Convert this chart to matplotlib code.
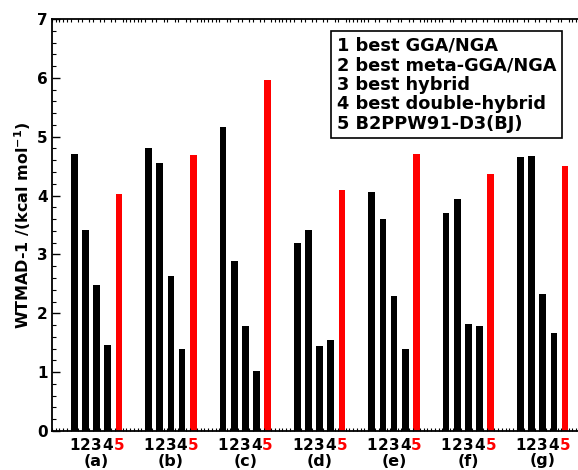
import matplotlib
matplotlib.use("Agg")
import matplotlib.pyplot as plt
from matplotlib.ticker import MultipleLocator
import matplotlib.transforms as mtransforms

groups = ["(a)", "(b)", "(c)", "(d)", "(e)", "(f)", "(g)"]
methods = ["1", "2", "3", "4", "5"]
legend_lines = ["1 best GGA/NGA", "2 best meta-GGA/NGA", "3 best hybrid",
                "4 best double-hybrid", "5 B2PPW91-D3(BJ)"]
best_gga = [4.70, 4.81, 5.16, 3.20, 4.06, 3.70, 4.66]
best_mgga = [3.42, 4.56, 2.88, 3.41, 3.61, 3.94, 4.67]
best_hybrid = [2.48, 2.63, 1.78, 1.45, 2.29, 1.81, 2.32]
best_dh = [1.46, 1.40, 1.02, 1.55, 1.39, 1.79, 1.66]
b2ppw91 = [4.02, 4.69, 5.96, 4.09, 4.71, 4.37, 4.50]
series = [best_gga, best_mgga, best_hybrid, best_dh, b2ppw91]
colors = ["black", "black", "black", "black", "red"]

plt.rcParams["font.family"] = "DejaVu Sans"
plt.rcParams["font.weight"] = "bold"

fig = plt.figure(figsize=(5.78, 4.70), dpi=100)
ax = fig.add_axes([52 / 578, 1 - 431 / 470, 7.2 * 74.35 / 578, 412 / 470])

offsets = [-0.3, -0.15, 0.0, 0.15, 0.3]
width = 0.09
ticks = []
ticklabels = []
for s, (vals, col, off, m) in enumerate(zip(series, colors, offsets, methods)):
    xs = [i + 1 + off for i in range(len(groups))]
    ax.bar(xs, vals, width=width, color=col, edgecolor="none")

for i in range(len(groups)):
    for off, m in zip(offsets, methods):
        ticks.append(i + 1 + off)
        ticklabels.append(m)

ax.set_xlim(0.4, 7.6)
ax.set_ylim(0, 7)
ax.set_xticks(ticks)
ax.set_xticklabels(ticklabels, fontsize=11, fontweight="bold")
for lbl, m in zip(ax.get_xticklabels(), ticklabels):
    if m == "5":
        lbl.set_color("red")
ax.xaxis.set_minor_locator(MultipleLocator(0.05))
ax.yaxis.set_major_locator(MultipleLocator(1))
ax.yaxis.set_minor_locator(MultipleLocator(0.2))
ax.tick_params(axis="both", which="both", direction="in", top=True, right=True)
ax.tick_params(axis="x", which="major", length=0, pad=5)
ax.tick_params(axis="x", which="minor", length=2, width=0.8)
ax.tick_params(axis="y", which="major", length=6, width=1, labelsize=11, pad=3)
ax.tick_params(axis="y", which="minor", length=3, width=0.8)
for lbl in ax.get_yticklabels():
    lbl.set_fontweight("bold")
for sp in ax.spines.values():
    sp.set_linewidth(1.3)

trans = mtransforms.blended_transform_factory(ax.transData, fig.transFigure)
for i, g in enumerate(groups):
    ax.text(i + 1, 1 - 461 / 470, g, transform=trans, ha="center", va="center",
            fontsize=11.5, fontweight="bold")

ax.set_ylabel("WTMAD-1 /(kcal mol$^{-1}$)", fontsize=11.5, fontweight="bold", labelpad=3)

ax.text((337 - 52) / (7.2 * 74.35), 1 - (37 - 19) / 412, "\n".join(legend_lines),
        transform=ax.transAxes, ha="left", va="top", fontsize=12.8, fontweight="bold",
        linespacing=1.10,
        bbox=dict(boxstyle="square,pad=0.32", facecolor="white", edgecolor="black", linewidth=1.2))

fig.savefig("out.png", dpi=100)
